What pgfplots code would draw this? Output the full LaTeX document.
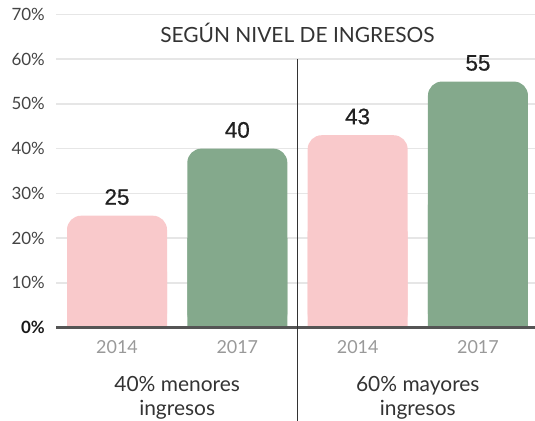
\documentclass[border=0pt]{standalone}
\usepackage{fontspec}
\setmainfont{Lato}
\newfontfamily\numfont[FakeBold=0.7]{Liberation Sans}
\usepackage{pgfplots}
\usepackage{pgfplotstable}
\pgfplotsset{compat=1.18}
\definecolor{pinkbar}{HTML}{F9C9CB}
\definecolor{greenbar}{HTML}{84A98C}
\definecolor{gridc}{HTML}{E6E6E6}
\definecolor{basec}{HTML}{555555}
\definecolor{txt}{HTML}{333333}
\definecolor{ticktxt}{HTML}{444444}
\definecolor{yeartxt}{HTML}{999999}

\pgfplotstableread{
x v
0 25
2 43
}\pinkdata
\pgfplotstableread{
x v
1 40
3 55
}\greendata

\begin{document}
\begin{tikzpicture}
\path[use as bounding box] (0,0) rectangle (535bp,421bp);
\begin{axis}[
  at={(56bp,93.5bp)}, anchor=south west,
  scale only axis, width=479bp, height=313bp,
  xmin=-0.507, xmax=3.474, ymin=0, ymax=70,
  ytick={0,10,...,70},
  yticklabels={{\color{black!90}\textbf{0\%}},10\%,20\%,30\%,40\%,50\%,60\%,\raisebox{-8bp}{70\%}},
  xtick={0,1,2,3}, xticklabels={2014,2017,2014,2017},
  axis line style={draw=none},
  major tick length=0pt,
  ymajorgrids, grid style={gridc, line width=1.5bp},
  yticklabel style={font=\fontsize{17}{20}\selectfont, text=ticktxt, anchor=east, inner sep=0pt, xshift=-11bp},
  xticklabel style={font=\fontsize{18}{20}\selectfont, text=yeartxt, anchor=center, inner sep=0pt, yshift=-20bp},
  clip=false,
  ybar, bar width=100bp, bar shift=0pt,
  every node near coord/.append style={font=\numfont\fontsize{22.5}{24}\selectfont, text=black!87, anchor=base, yshift=11bp, inner sep=0pt},
]
\addplot[fill=pinkbar, draw=none, rounded corners=14bp,
  nodes near coords={\pgfmathprintnumber[assume math mode=true]{\pgfplotspointmeta}}] table[x=x,y=v]{\pinkdata};
\addplot[fill=pinkbar, draw=none] table[x=x, y expr=\thisrow{v}/2]{\pinkdata};
\addplot[fill=greenbar, draw=none, rounded corners=14bp,
  nodes near coords={\pgfmathprintnumber[assume math mode=true]{\pgfplotspointmeta}}] table[x=x,y=v]{\greendata};
\addplot[fill=greenbar, draw=none] table[x=x, y expr=\thisrow{v}/2]{\greendata};
\draw[basec, line width=2.5bp] (rel axis cs:0,0) -- (rel axis cs:1,0);
\draw[txt, line width=1bp] (axis cs:1.5,60) -- ([yshift=-100bp]axis cs:1.5,0);
\node[anchor=base, font=\fontsize{21}{24}\selectfont, text=txt] at (axis cs:1.5,63.7) {SEGÚN NIVEL DE INGRESOS};
\node[align=center, font=\fontsize{21}{23.5}\selectfont, text=txt, anchor=north, inner sep=0pt] at ([yshift=-49bp]axis cs:0.5,0) {40\% menores\\ingresos};
\node[align=center, font=\fontsize{21}{23.5}\selectfont, text=txt, anchor=north, inner sep=0pt] at ([yshift=-49bp]axis cs:2.5,0) {60\% mayores\\ingresos};
\end{axis}
\end{tikzpicture}
\end{document}
